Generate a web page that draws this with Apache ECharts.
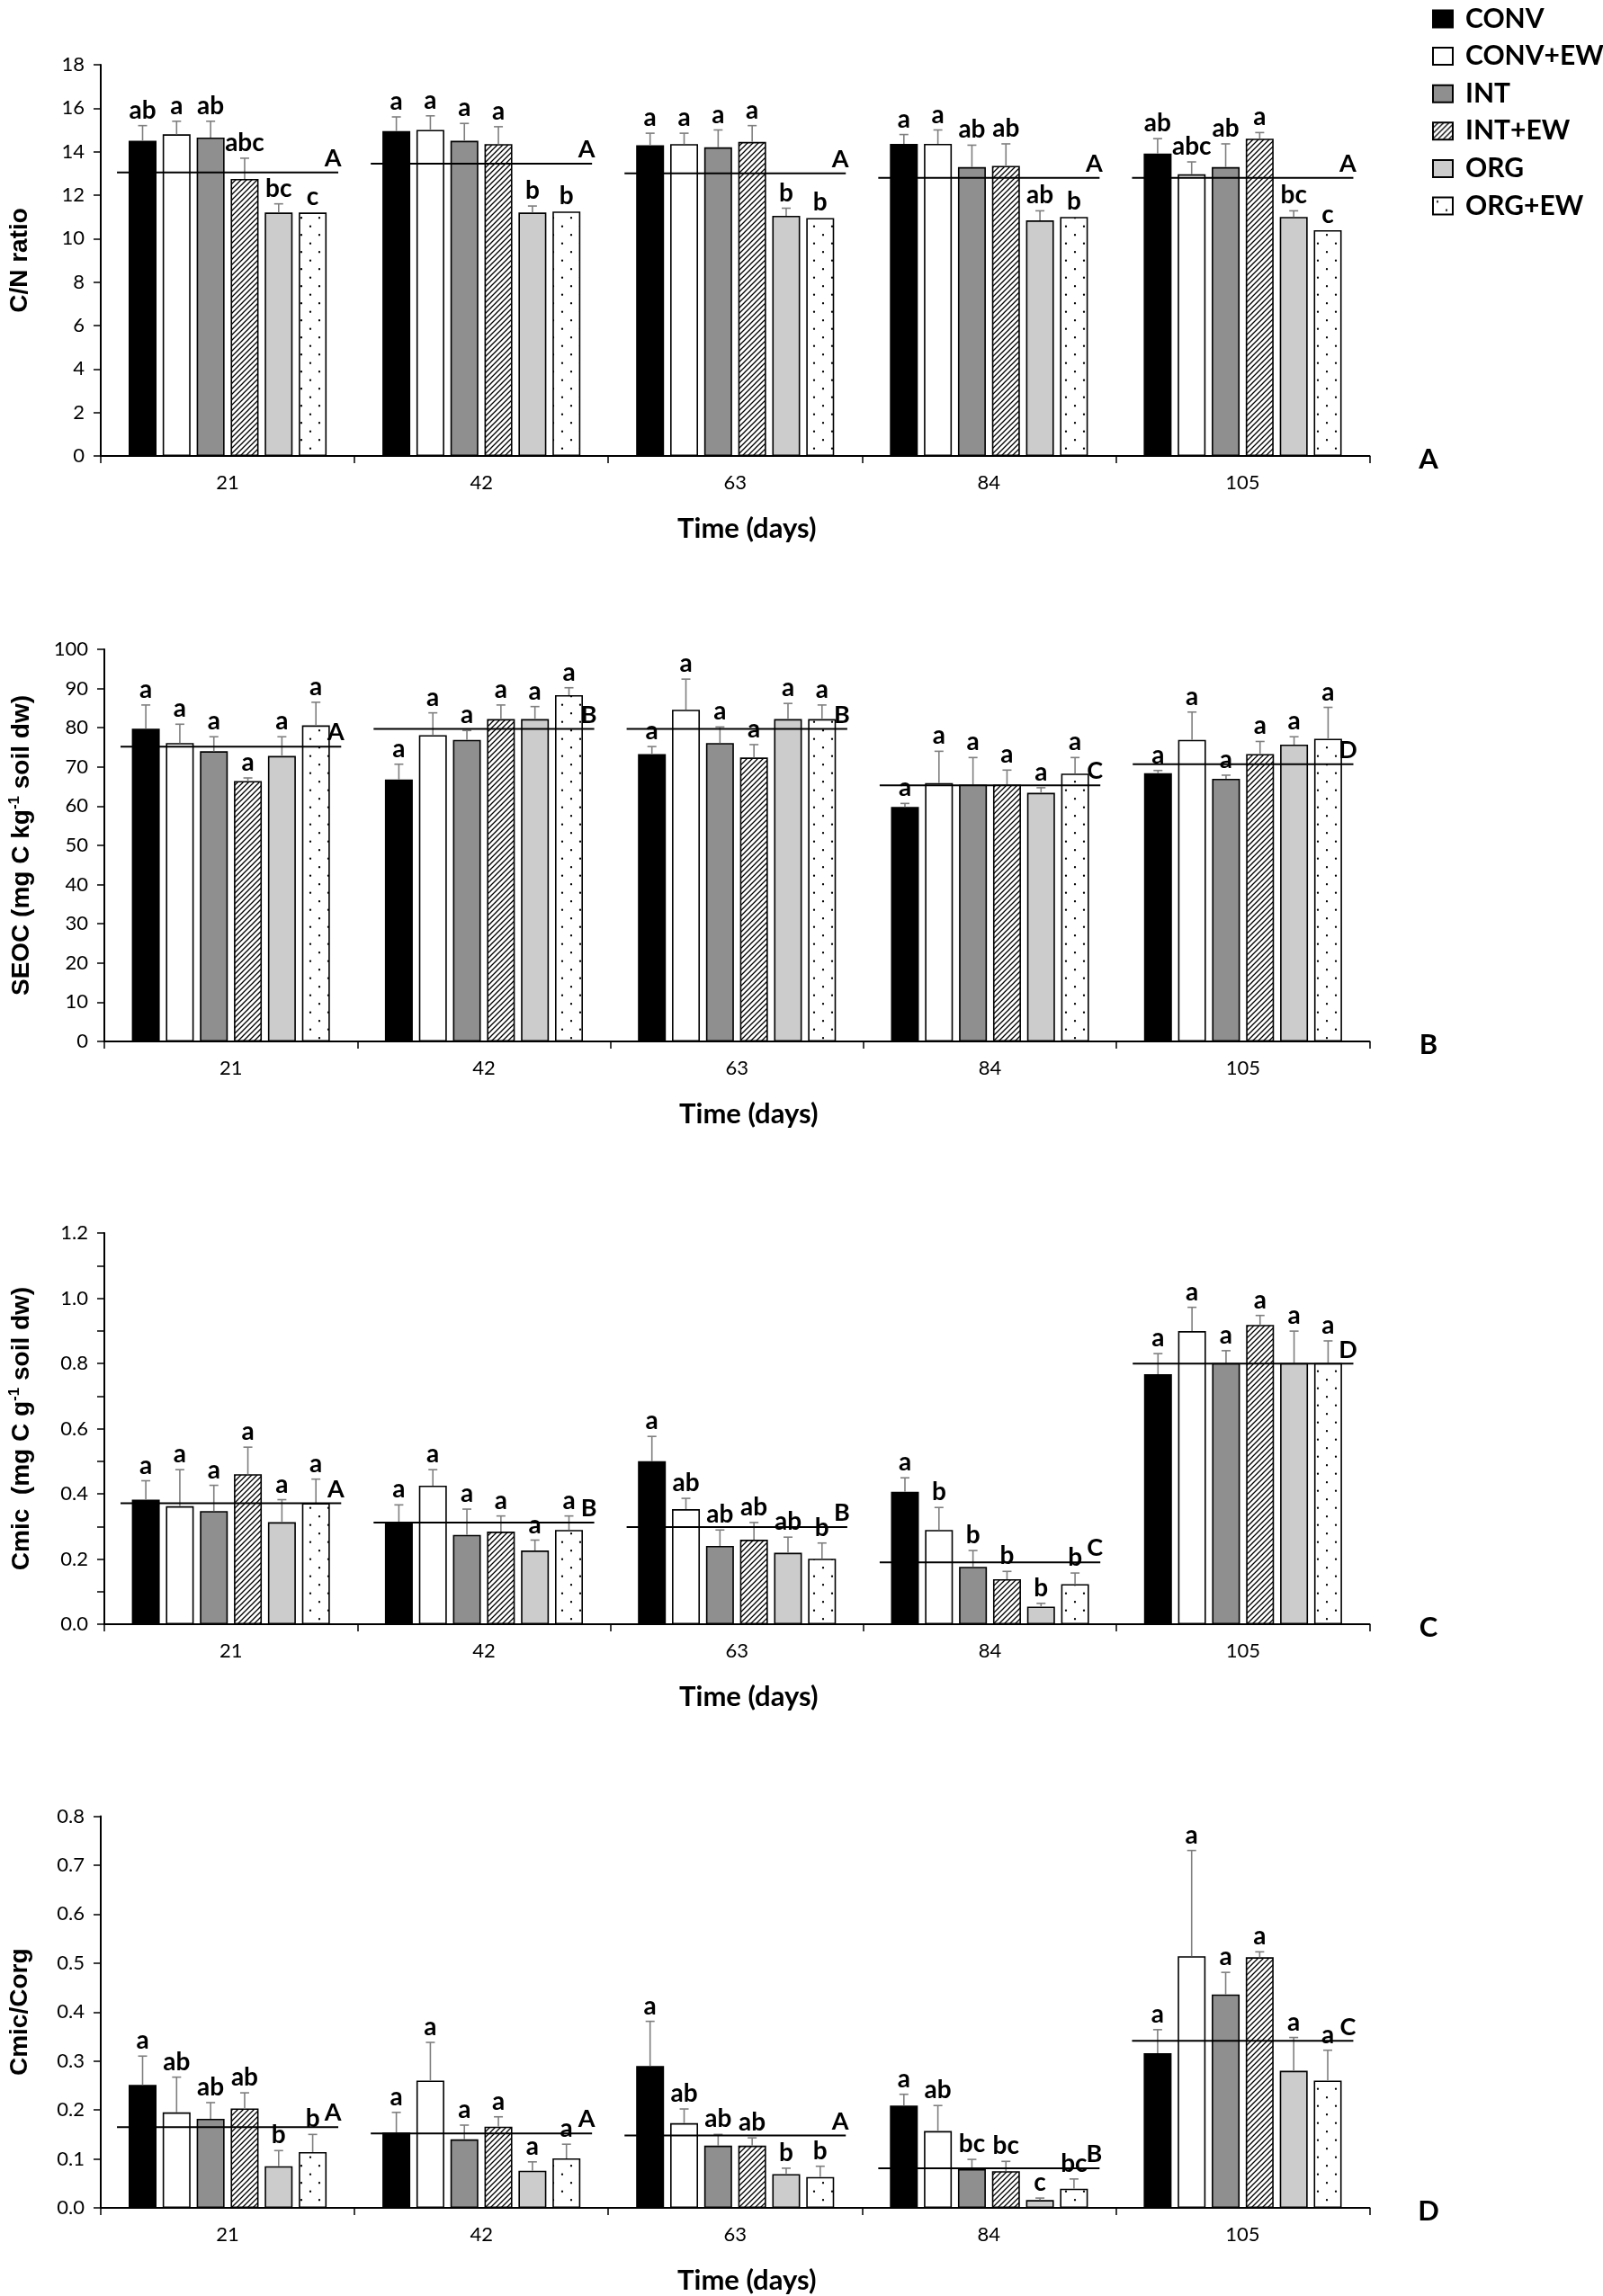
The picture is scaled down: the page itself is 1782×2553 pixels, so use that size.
<!DOCTYPE html>
<html><head><meta charset="utf-8">
<script src="https://cdn.jsdelivr.net/npm/echarts@6/dist/echarts.min.js"></script>
<style>html,body{margin:0;padding:0;background:#fff}#c{width:1782px;height:2553px}</style>
</head><body><div id="c"></div>
<script>
// ---------- DATA ----------
const days = ['21', '42', '63', '84', '105'];
const treatments = ['CONV', 'CONV+EW', 'INT', 'INT+EW', 'ORG', 'ORG+EW'];

// Panel A: C/N ratio (rows = treatments, cols = days)
const cnMean = [
  [14.5, 14.95, 14.3, 14.36, 13.91],
  [14.8, 15.0, 14.35, 14.36, 12.96],
  [14.65, 14.5, 14.2, 13.29, 13.29],
  [12.75, 14.35, 14.45, 13.35, 14.6],
  [11.2, 11.2, 11.05, 10.84, 11.0],
  [11.2, 11.25, 10.95, 11.0, 10.39]
];
const cnErr = [
  [0.7, 0.65, 0.55, 0.43, 0.69],
  [0.6, 0.65, 0.5, 0.64, 0.57],
  [0.75, 0.8, 0.8, 1.01, 1.07],
  [0.95, 0.8, 0.75, 1.01, 0.28],
  [0.4, 0.3, 0.35, 0.44, 0.28],
  [0, 0, 0, 0, 0]
];
const cnSig = [
  ['ab', 'a', 'a', 'a', 'ab'],
  ['a', 'a', 'a', 'a', 'abc'],
  ['ab', 'a', 'a', 'ab', 'ab'],
  ['abc', 'a', 'a', 'ab', 'a'],
  ['bc', 'b', 'b', 'ab', 'bc'],
  ['c', 'b', 'b', 'b', 'c']
];
const cnAvg = [13.05, 13.45, 13.0, 12.8, 12.8];
const cnAvgSig = ['A', 'A', 'A', 'A', 'A'];

// Panel B: SEOC
const seocMean = [
  [79.75, 66.8, 73.3, 59.8, 68.4],
  [76.1, 78.1, 84.6, 65.9, 76.9],
  [74.0, 76.9, 76.1, 65.5, 67.0],
  [66.4, 82.2, 72.4, 65.5, 73.3],
  [72.8, 82.2, 82.2, 63.4, 75.7],
  [80.6, 88.3, 82.2, 68.3, 77.2]
];
const seocErr = [
  [6.05, 3.9, 1.9, 0.9, 0.7],
  [4.8, 5.7, 7.8, 8.1, 7.1],
  [3.7, 2.4, 4.1, 6.9, 0.9],
  [0.8, 3.6, 3.3, 3.7, 3.2],
  [4.9, 3.2, 4.0, 1.3, 2.0],
  [5.9, 1.9, 3.6, 4.1, 8.0]
];
const seocSig = [
  ['a', 'a', 'a', 'a', 'a'],
  ['a', 'a', 'a', 'a', 'a'],
  ['a', 'a', 'a', 'a', 'a'],
  ['a', 'a', 'a', 'a', 'a'],
  ['a', 'a', 'a', 'a', 'a'],
  ['a', 'a', 'a', 'a', 'a']
];
const seocAvg = [75.2, 79.7, 79.7, 65.3, 70.7];
const seocAvgSig = ['A', 'B', 'B', 'C', 'D'];

// Panel C: Cmic
const cmicMean = [
  [0.382, 0.310, 0.500, 0.406, 0.767],
  [0.362, 0.425, 0.353, 0.289, 0.899],
  [0.347, 0.274, 0.240, 0.176, 0.801],
  [0.460, 0.284, 0.259, 0.138, 0.918],
  [0.313, 0.226, 0.219, 0.054, 0.801],
  [0.371, 0.289, 0.201, 0.123, 0.801]
];
const cmicErr = [
  [0.058, 0.056, 0.076, 0.043, 0.063],
  [0.112, 0.049, 0.033, 0.069, 0.073],
  [0.079, 0.079, 0.049, 0.050, 0.038],
  [0.083, 0.048, 0.053, 0.024, 0.029],
  [0.069, 0.032, 0.048, 0.010, 0.098],
  [0.074, 0.043, 0.048, 0.034, 0.068]
];
const cmicSig = [
  ['a', 'a', 'a', 'a', 'a'],
  ['a', 'a', 'ab', 'b', 'a'],
  ['a', 'a', 'ab', 'b', 'a'],
  ['a', 'a', 'ab', 'b', 'a'],
  ['a', 'a', 'ab', 'b', 'a'],
  ['a', 'a', 'b', 'b', 'a']
];
const cmicAvg = [0.371, 0.312, 0.298, 0.190, 0.799];
const cmicAvgSig = ['A', 'B', 'B', 'C', 'D'];

// Panel D: Cmic/Corg
const ratioMean = [
  [0.251, 0.154, 0.290, 0.209, 0.316],
  [0.195, 0.260, 0.173, 0.157, 0.514],
  [0.182, 0.140, 0.127, 0.079, 0.436],
  [0.203, 0.166, 0.127, 0.075, 0.512],
  [0.085, 0.076, 0.069, 0.016, 0.280],
  [0.114, 0.101, 0.063, 0.039, 0.260]
];
const ratioErr = [
  [0.059, 0.041, 0.091, 0.023, 0.048],
  [0.072, 0.078, 0.029, 0.052, 0.216],
  [0.033, 0.029, 0.023, 0.020, 0.045],
  [0.032, 0.020, 0.016, 0.020, 0.011],
  [0.032, 0.018, 0.012, 0.004, 0.068],
  [0.036, 0.029, 0.022, 0.020, 0.062]
];
const ratioSig = [
  ['a', 'a', 'a', 'a', 'a'],
  ['ab', 'a', 'ab', 'ab', 'a'],
  ['ab', 'a', 'ab', 'bc', 'a'],
  ['ab', 'a', 'ab', 'bc', 'a'],
  ['b', 'a', 'b', 'c', 'a'],
  ['b', 'a', 'b', 'bc', 'a']
];
const ratioAvg = [0.165, 0.152, 0.148, 0.081, 0.341];
const ratioAvgSig = ['A', 'A', 'A', 'B', 'C'];

const panelLetters = ['A', 'B', 'C', 'D'];

// ---------- STYLE ----------
const BAR_W = 31, BAR_GAP = 0.22, PITCH = BAR_W * (1 + BAR_GAP);
const CAL = 'Lato', ARI = '"Liberation Sans", Arial, sans-serif';

function hatchTile() {
  const c = document.createElement('canvas'); c.width = 6; c.height = 6;
  const g = c.getContext('2d');
  g.fillStyle = '#fff'; g.fillRect(0, 0, 6, 6);
  g.strokeStyle = '#000'; g.lineWidth = 1.3; g.beginPath();
  g.moveTo(0, 6); g.lineTo(6, 0);
  g.moveTo(-1, 1); g.lineTo(1, -1);
  g.moveTo(5, 7); g.lineTo(7, 5);
  g.stroke();
  return c;
}
function dotTile() {
  const c = document.createElement('canvas'); c.width = 20; c.height = 19;
  const g = c.getContext('2d');
  g.fillStyle = '#fff'; g.fillRect(0, 0, 20, 19);
  g.fillStyle = '#000';
  g.beginPath(); g.arc(5, 4.75, 1.15, 0, Math.PI * 2); g.fill();
  g.beginPath(); g.arc(15, 14.25, 1.15, 0, Math.PI * 2); g.fill();
  return c;
}
const fills = [
  '#000000', '#ffffff', '#8f8f8f',
  { image: hatchTile(), repeat: 'repeat' },
  '#cccccc',
  { image: dotTile(), repeat: 'repeat' }
];

const panels = [
  { mean: cnMean, err: cnErr, sig: cnSig, avg: cnAvg, avgSig: cnAvgSig, top: 72, h: 435, min: 0, max: 18, interval: 2, minor: false, fmt: v => String(v),
    name: 'C/N ratio' },
  { mean: seocMean, err: seocErr, sig: seocSig, avg: seocAvg, avgSig: seocAvgSig, top: 722, h: 436, min: 0, max: 100, interval: 10, minor: false, fmt: v => String(v),
    name: '{n|SEOC (mg C kg}{s|-1}{n| soil dw)}' },
  { mean: cmicMean, err: cmicErr, sig: cmicSig, avg: cmicAvg, avgSig: cmicAvgSig, top: 1371, h: 435, min: 0, max: 1.2, interval: 0.2, minor: true, fmt: v => v.toFixed(1),
    name: '{n|Cmic  (mg C g}{s|-1}{n| soil dw)}' },
  { mean: ratioMean, err: ratioErr, sig: ratioSig, avg: ratioAvg, avgSig: ratioAvgSig, top: 2019.5, h: 435.5, min: 0, max: 0.8, interval: 0.1, minor: false, fmt: v => v.toFixed(1),
    name: 'Cmic/Corg' }
];

const grid = [], xAxis = [], yAxis = [], series = [], graphic = [];
panels.forEach((P, p) => {
  grid.push({ left: 111, right: 259.5, top: P.top, height: P.h });
  xAxis.push({
    type: 'category', gridIndex: p, data: days,
    axisLine: { lineStyle: { color: '#000', width: 2 } },
    axisTick: { show: true, interval: 0, length: 8, lineStyle: { color: '#000', width: 1.5 } },
    axisLabel: { interval: 0, color: '#000', fontFamily: CAL, fontSize: 22, margin: 19 },
    splitLine: { show: false },
    name: 'Time (days)', nameLocation: 'middle', nameGap: 65,
    nameTextStyle: { color: '#000', fontFamily: CAL, fontWeight: 'bold', fontSize: 31, padding: [0, 0, 0, 26] }
  });
  yAxis.push({
    type: 'value', gridIndex: p, min: P.min, max: P.max, interval: P.interval,
    axisLine: { show: true, lineStyle: { color: '#000', width: 2 } },
    axisTick: { show: true, length: 8, lineStyle: { color: '#000', width: 1.5 } },
    minorTick: { show: P.minor, splitNumber: 2, length: 8, lineStyle: { color: '#000', width: 1.5 } },
    axisLabel: { color: '#000', fontFamily: CAL, fontSize: 22, margin: 18, formatter: P.fmt },
    splitLine: { show: false },
    name: P.name, nameLocation: 'middle', nameGap: 76,
    nameTextStyle: {
      color: '#000', fontFamily: ARI, fontWeight: 'bold', fontSize: 28,
      rich: {
        n: { fontFamily: ARI, fontWeight: 'bold', fontSize: 28, lineHeight: 32, color: '#000' },
        s: { fontFamily: ARI, fontWeight: 'bold', fontSize: 17, lineHeight: 22, verticalAlign: 'top', color: '#000' }
      }
    }
  });
  treatments.forEach((t, k) => {
    series.push({
      type: 'bar', name: t, xAxisIndex: p, yAxisIndex: p, data: P.mean[k],
      barWidth: BAR_W, barGap: (BAR_GAP * 100) + '%', z: 2, silent: true,
      itemStyle: { color: fills[k], borderColor: '#000', borderWidth: 1.6 },
      emphasis: { disabled: true }
    });
  });
  treatments.forEach((t, k) => {
    series.push({
      type: 'custom', xAxisIndex: p, yAxisIndex: p, z: 5, silent: true,
      data: P.mean[k].map((m, i) => [i, m, m + P.err[k][i]]),
      encode: { x: 0, y: [1, 2] },
      renderItem: (params, api) => {
        const i = api.value(0), m = api.value(1), top = api.value(2);
        const base = api.coord([i, m]), tp = api.coord([i, top]);
        const x = base[0] + (k - 2.5) * PITCH;
        const ch = [];
        if (top > m + 1e-9) {
          ch.push({ type: 'line', shape: { x1: x, y1: base[1], x2: x, y2: tp[1] }, style: { stroke: '#7f7f7f', lineWidth: 1.6 } });
          ch.push({ type: 'line', shape: { x1: x - 5, y1: tp[1], x2: x + 5, y2: tp[1] }, style: { stroke: '#7f7f7f', lineWidth: 1.6 } });
        }
        ch.push({ type: 'text', style: { x: x, y: tp[1] - 3, text: P.sig[k][params.dataIndex], fill: '#000',
          font: 'bold 28px ' + CAL, align: 'center', verticalAlign: 'bottom' } });
        return { type: 'group', children: ch };
      }
    });
  });
  series.push({
    type: 'custom', xAxisIndex: p, yAxisIndex: p, z: 6, silent: true,
    data: P.avg.map((v, i) => [i, v]),
    encode: { x: 0, y: 1 },
    renderItem: (params, api) => {
      const c = api.coord([api.value(0), api.value(1)]);
      const half = api.size([1, 0])[0] * 0.436;
      return { type: 'group', children: [
        { type: 'line', shape: { x1: c[0] - half, y1: c[1], x2: c[0] + half, y2: c[1] }, style: { stroke: '#000', lineWidth: 2 } },
        { type: 'text', style: { x: c[0] + half - 6, y: c[1] - 2, text: P.avgSig[params.dataIndex], fill: '#000',
          font: 'bold 27px ' + CAL, align: 'center', verticalAlign: 'bottom' } }
      ] };
    }
  });
  graphic.push({ type: 'text', x: 1588, y: P.top + P.h + 4, silent: true,
    style: { text: panelLetters[p], fill: '#000', font: 'bold 31px ' + CAL, align: 'center', verticalAlign: 'middle' } });
});

const chart = echarts.init(document.getElementById('c'), null, { renderer: 'canvas' });
chart.setOption({
  backgroundColor: '#fff',
  animation: false,
  grid, xAxis, yAxis, series, graphic,
  legend: {
    data: treatments, orient: 'vertical', left: 1587, top: 1,
    icon: 'rect', itemWidth: 22, itemHeight: 19, itemGap: 11.6,
    selectedMode: false,
    textStyle: { color: '#000', fontFamily: CAL, fontWeight: 'bold', fontSize: 30, lineHeight: 20, padding: [0, 0, 0, 9] }
  }
});
</script>
</body></html>
